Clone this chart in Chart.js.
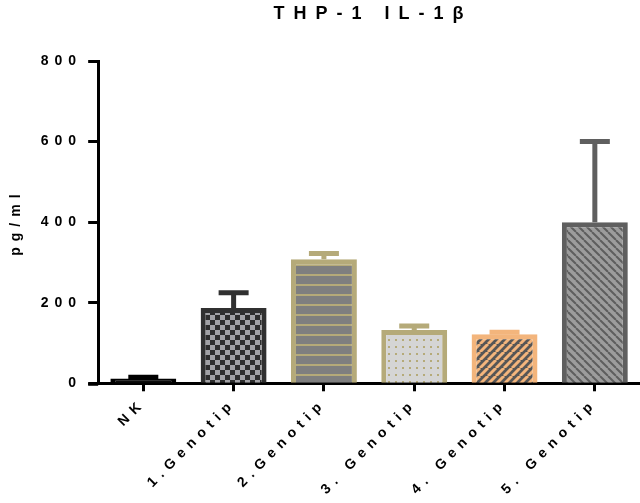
<!DOCTYPE html>
<html>
<head>
<meta charset="utf-8">
<script src="https://cdn.jsdelivr.net/npm/chart.js@4"></script>
<style>
  html, body { margin: 0; padding: 0; background: #fff; overflow: hidden; }
</style>
</head>
<body>
<canvas id="chart" width="640" height="503"></canvas>
<script>
const categories = ["NK", "1.Genotip", "2.Genotip", "3. Genotip", "4. Genotip", "5. Genotip"];
const means = [12, 187, 308, 132, 122, 400];
const errors = [3, 38, 14, 10, 5, 200];
const yTicks = [0, 200, 400, 600, 800];
const chartTitle = "THP-1 IL-1β";
const yTitle = "pg/ml";

const khaki = "#b5aa79";
const orange = "#f3b57c";
const fontFamily = "'Liberation Sans', Arial, sans-serif";

function makePattern(bg, fg, kind) {
  const c = document.createElement("canvas");
  const n = kind === "dots" ? 7 : kind === "lines" ? 10 : kind === "checker" ? 10 : 8;
  c.width = n;
  c.height = n;
  const g = c.getContext("2d");
  g.fillStyle = bg;
  g.fillRect(0, 0, n, n);
  g.fillStyle = fg;
  g.strokeStyle = fg;
  if (kind === "checker") {
    g.fillRect(0, 0, 5, 5);
    g.fillRect(5, 5, 5, 5);
  } else if (kind === "lines") {
    g.fillRect(0, 4, n, 2);
  } else if (kind === "dots") {
    g.fillRect(3, 3, 2, 2);
  } else {
    g.lineWidth = kind === "slash" ? 3 : 2;
    g.beginPath();
    for (const k of [-n, 0, n]) {
      if (kind === "slash") {
        g.moveTo(k, n);
        g.lineTo(k + n, 0);
      } else {
        g.moveTo(k, 0);
        g.lineTo(k + n, n);
      }
    }
    g.stroke();
  }
  return g.createPattern(c, "repeat");
}

const ctx = document.getElementById("chart").getContext("2d");

const fills = [
  "#0d0d0d",
  makePattern("#a2a2a6", "#2e2e2e", "checker"),
  makePattern("#7f7f7f", khaki, "lines"),
  makePattern("#d5d5d5", khaki, "dots"),
  makePattern("#565656", orange, "slash"),
  makePattern("#9c9c9c", "#5e5e5e", "back"),
];
const borders = ["#000000", "#303030", khaki, khaki, orange, "#5f5f5f"];

const spacing = {
  id: "spacing",
  beforeUpdate(chart) { chart.ctx.letterSpacing = "6px"; },
  beforeLayout(chart) { chart.ctx.letterSpacing = "6px"; },
  beforeDraw(chart) { chart.ctx.letterSpacing = "6px"; },
};

const errorBars = {
  id: "errorBars",
  afterDatasetsDraw(chart) {
    const c = chart.ctx;
    const meta = chart.getDatasetMeta(0);
    const y = chart.scales.y;
    c.save();
    c.lineWidth = 5;
    meta.data.forEach((bar, i) => {
      const top = y.getPixelForValue(means[i] + errors[i]);
      const base = y.getPixelForValue(means[i]);
      c.strokeStyle = borders[i];
      c.beginPath();
      c.moveTo(bar.x, base);
      c.lineTo(bar.x, top);
      c.moveTo(bar.x - 15, top);
      c.lineTo(bar.x + 15, top);
      c.stroke();
    });
    c.restore();
  },
  afterDraw(chart) {
    const c = chart.ctx;
    const area = chart.chartArea;
    c.save();
    // axis line runs a little past the y axis, as in the original
    c.strokeStyle = "#000";
    c.lineWidth = 3;
    c.beginPath();
    c.moveTo(area.left - 10, chart.scales.x.top + 1);
    c.lineTo(area.left, chart.scales.x.top + 1);
    c.stroke();
    c.letterSpacing = "9px";
    c.font = "bold 18px " + fontFamily;
    c.fillStyle = "#000";
    c.textAlign = "center";
    c.textBaseline = "middle";
    c.fillText(chartTitle, (area.left + area.right) / 2 + 4, 14);
    c.restore();
  },
};

new Chart(ctx, {
  type: "bar",
  data: {
    labels: categories,
    datasets: [
      {
        data: means,
        backgroundColor: fills,
        borderColor: borders,
        borderWidth: 5,
        borderSkipped: "start",
        barPercentage: 0.73,
        categoryPercentage: 1,
      },
    ],
  },
  options: {
    responsive: false,
    animation: false,
    layout: {
      padding: { top: 61, left: 4, right: 0, bottom: 1 },
    },
    plugins: {
      legend: { display: false },
      tooltip: { enabled: false },
    },
    scales: {
      x: {
        offset: true,
        grid: {
          offset: false,
          drawOnChartArea: false,
          tickLength: 8,
          tickWidth: 3,
          tickColor: "#000",
        },
        border: { display: true, width: 3, color: "#000" },
        ticks: {
          color: "#000",
          maxRotation: 45,
          minRotation: 45,
          padding: 4,
          font: { family: fontFamily, size: 14, weight: "bold" },
        },
      },
      y: {
        min: yTicks[0],
        max: yTicks[yTicks.length - 1],
        grid: {
          drawOnChartArea: false,
          tickLength: 10,
          tickWidth: 3,
          tickColor: "#000",
        },
        border: { display: true, width: 3, color: "#000" },
        ticks: {
          stepSize: yTicks[1] - yTicks[0],
          color: "#000",
          padding: 6,
          font: { family: fontFamily, size: 14, weight: "bold" },
        },
        title: {
          display: true,
          text: yTitle,
          color: "#000",
          padding: { top: 4, bottom: 10 },
          font: { family: fontFamily, size: 14, weight: "bold" },
        },
      },
    },
  },
  plugins: [spacing, errorBars],
});
</script>
</body>
</html>
